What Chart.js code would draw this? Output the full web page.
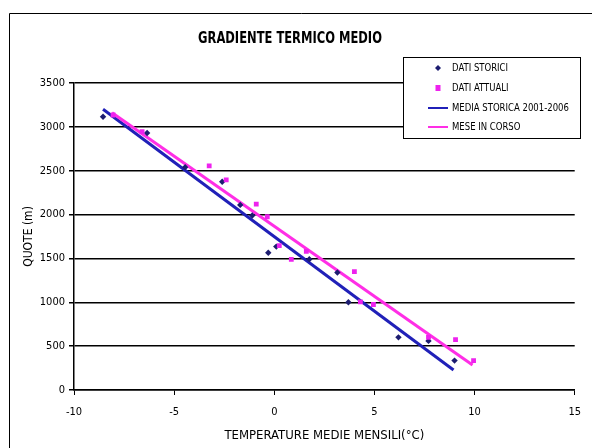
<!DOCTYPE html>
<html>
<head>
<meta charset="utf-8">
<script src="https://cdn.jsdelivr.net/npm/chart.js@4/dist/chart.umd.min.js"></script>
<style>
  html, body { margin: 0; padding: 0; background: #ffffff; }
  #wrap { width: 592px; height: 448px; position: relative; }
</style>
</head>
<body>
<div id="wrap"><canvas id="chart" width="592" height="448"></canvas></div>
<script>
// Dati storici (temperature medie mensili, quota)
const histTemp = [-8.55, -6.35, -4.45, -2.6, -1.7, -1.1, -0.3, 0.1, 1.75, 3.15, 3.7, 6.2, 7.7, 9.0];
const histQuota = [3115, 2930, 2540, 2375, 2110, 1990, 1565, 1635, 1490, 1340, 1000, 600, 560, 335];

// Dati attuali
const curTemp = [-8.05, -6.6, -3.25, -2.4, -0.9, -0.35, 0.25, 0.85, 1.6, 4.0, 4.3, 4.95, 7.7, 9.05, 9.95];
const curQuota = [3135, 2945, 2555, 2395, 2120, 1975, 1645, 1490, 1580, 1350, 1005, 975, 600, 575, 335];

// Rette di gradiente (estremi)
const mediaTemp = [-8.55, 8.95];
const mediaQuota = [3200, 228];
const meseTemp = [-8.1, 9.9];
const meseQuota = [3160, 285];

const xTicks = [-10, -5, 0, 5, 10, 15];
const yTicks = [0, 500, 1000, 1500, 2000, 2500, 3000, 3500];

const labels = ['DATI STORICI', 'DATI ATTUALI', 'MEDIA STORICA 2001-2006', 'MESE IN CORSO'];
const chartTitle = 'GRADIENTE TERMICO MEDIO';
const xTitle = 'TEMPERATURE MEDIE MENSILI(°C)';
const yTitle = 'QUOTE (m)';

const NARROW = '"Liberation Sans Narrow", "Arial Narrow", "DejaVu Sans Condensed", sans-serif';

function toPoints(xs, ys) {
    return xs.map((x, i) => ({ x: x, y: ys[i] }));
}

// draw text squeezed horizontally (the original uses a narrow face)
function narrowText(ctx, text, x, y, squeeze) {
    ctx.save();
    ctx.translate(x, y);
    ctx.scale(squeeze, 1);
    ctx.fillText(text, 0, 0);
    ctx.restore();
}

// title, frame and the floating legend box
const decorPlugin = {
    id: 'decor',
    afterDraw(chart) {
        const ctx = chart.ctx;
        ctx.save();
        // outer frame
        ctx.strokeStyle = '#000000';
        ctx.lineWidth = 1;
        ctx.beginPath();
        ctx.moveTo(9.5, 460);
        ctx.lineTo(9.5, 13.5);
        ctx.lineTo(600, 13.5);
        ctx.stroke();

        // title
        ctx.fillStyle = '#000000';
        ctx.font = 'bold 16px ' + NARROW;
        ctx.textAlign = 'center';
        ctx.textBaseline = 'middle';
        narrowText(ctx, chartTitle, 290, 39, 0.8);

        // legend
        const bx = 403.5, by = 57.5, bw = 177, bh = 81;
        ctx.fillStyle = '#ffffff';
        ctx.fillRect(bx, by, bw, bh);
        ctx.strokeRect(bx, by, bw, bh);
        const rows = [68, 88, 108, 127];
        ctx.font = '11px ' + NARROW;
        ctx.textAlign = 'left';
        chart.data.datasets.forEach((ds, i) => {
            const y = rows[i];
            if (ds.showLine) {
                ctx.strokeStyle = ds.borderColor;
                ctx.lineWidth = 2;
                ctx.beginPath();
                ctx.moveTo(428, y);
                ctx.lineTo(448, y);
                ctx.stroke();
            } else if (ds.pointStyle === 'rectRot') {
                ctx.fillStyle = ds.backgroundColor;
                ctx.beginPath();
                ctx.moveTo(438, y - 3);
                ctx.lineTo(441, y);
                ctx.lineTo(438, y + 3);
                ctx.lineTo(435, y);
                ctx.closePath();
                ctx.fill();
            } else {
                ctx.fillStyle = ds.backgroundColor;
                ctx.fillRect(435.5, y - 3, 5, 6);
            }
            ctx.fillStyle = '#000000';
            narrowText(ctx, ds.label, 452, y, 0.86);
        });
        ctx.restore();
    }
};

const ctx = document.getElementById('chart').getContext('2d');
new Chart(ctx, {
    type: 'scatter',
    data: {
        datasets: [{
            label: labels[0],
            data: toPoints(histTemp, histQuota),
            pointStyle: 'rectRot',
            radius: 3.2,
            backgroundColor: '#1c1c70',
            borderColor: '#1c1c70',
            borderWidth: 0,
            order: 1
        }, {
            label: labels[1],
            data: toPoints(curTemp, curQuota),
            pointStyle: 'rect',
            radius: 3.4,
            backgroundColor: '#ee22ee',
            borderColor: '#ee22ee',
            borderWidth: 0,
            order: 0
        }, {
            label: labels[2],
            data: toPoints(mediaTemp, mediaQuota),
            showLine: true,
            pointRadius: 0,
            borderColor: '#2020b8',
            borderWidth: 3,
            order: 3
        }, {
            label: labels[3],
            data: toPoints(meseTemp, meseQuota),
            showLine: true,
            pointRadius: 0,
            borderColor: '#ff2ee6',
            borderWidth: 3,
            order: 2
        }]
    },
    options: {
        responsive: false,
        animation: false,
        layout: {
            padding: { left: 0, right: 17, top: 83, bottom: 0 }
        },
        plugins: {
            legend: { display: false },
            tooltip: { enabled: false }
        },
        scales: {
            x: {
                type: 'linear',
                min: xTicks[0],
                max: xTicks[xTicks.length - 1],
                afterBuildTicks: scale => { scale.ticks = xTicks.map(v => ({ value: v })); },
                afterFit: scale => { scale.height = 58; },
                border: { color: '#000000', width: 1.5 },
                grid: {
                    drawOnChartArea: false,
                    drawTicks: true,
                    tickLength: 5,
                    color: '#000000'
                },
                ticks: {
                    color: '#000000',
                    padding: 11,
                    font: { size: 11, family: NARROW },
                    maxRotation: 0,
                    callback: v => String(v)
                },
                title: {
                    display: true,
                    text: xTitle,
                    color: '#000000',
                    font: { size: 13, family: NARROW },
                    padding: { top: 0, bottom: 5 }
                }
            },
            y: {
                min: yTicks[0],
                max: yTicks[yTicks.length - 1],
                afterBuildTicks: scale => { scale.ticks = yTicks.map(v => ({ value: v })); },
                afterFit: scale => { scale.width = 74; },
                border: { color: '#000000', width: 1.5 },
                grid: {
                    color: '#000000',
                    lineWidth: 1.5,
                    drawTicks: true,
                    tickLength: 5
                },
                ticks: {
                    color: '#000000',
                    padding: 4,
                    font: { size: 11, family: NARROW },
                    callback: v => String(v)
                },
                title: {
                    display: true,
                    text: yTitle,
                    color: '#000000',
                    font: { size: 12, family: NARROW },
                    padding: { top: 22, bottom: 0 }
                }
            }
        }
    },
    plugins: [decorPlugin]
});
</script>
</body>
</html>
